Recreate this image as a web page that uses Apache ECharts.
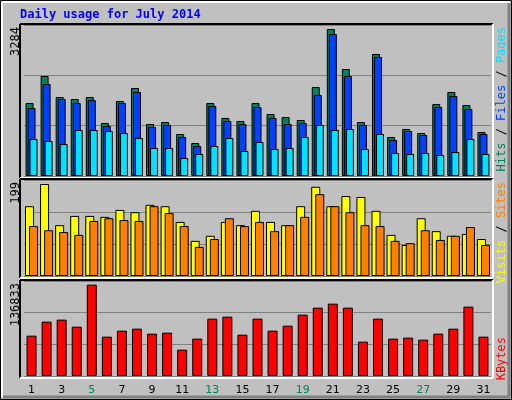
<!DOCTYPE html>
<html><head><meta charset="utf-8">
<script src="https://cdn.jsdelivr.net/npm/echarts@6/dist/echarts.min.js"></script>
<style>html,body{margin:0;padding:0;background:#c0c0c0}#c{width:512px;height:400px}</style>
</head><body><div id="c"></div>
<script>
const days = ['1','2','3','4','5','6','7','8','9','10','11','12','13','14','15','16','17','18','19','20','21','22','23','24','25','26','27','28','29','30','31'];
const weekend = ['5','6','12','13','19','20','26','27'];
const hits  = [1631,2234,1765,1720,1765,1184,1676,1966,1162,1206,938,737,1631,1296,1229,1631,1385,1318,1251,1988,3284,2390,1206,2726,871,1050,961,1609,1877,1586,983];
const files = [1519,2055,1720,1631,1698,1117,1631,1877,1095,1139,871,670,1564,1229,1162,1541,1296,1162,1184,1810,3172,2234,1139,2659,804,1005,916,1541,1787,1497,938];
const pages = [827,782,715,1028,1028,1005,961,849,626,626,402,492,670,849,559,760,603,626,871,1139,1028,1050,603,938,514,492,514,469,536,827,492];
const sites  = [151,199,110,130,130,128,143,138,154,151,117,76,87,117,110,141,117,110,151,193,151,173,171,141,89,67,125,97,87,91,80];
const visits = [108,99,95,89,119,125,121,119,151,136,108,63,80,125,108,117,97,110,128,177,151,138,110,108,76,71,99,78,87,106,67];
const kbytes = [60427,81402,84399,73911,136833,58929,67918,70915,63424,64922,39453,55933,85897,88893,61926,85897,67918,75409,91890,102377,108370,102377,51438,85897,55933,57431,54435,63424,70915,103875,58929];
const maxLabels = ['3284','199','136833'];

const chart = echarts.init(document.getElementById('c'), null, {renderer:'canvas'});
const L = 24, W = 467;
const grids = [{left:L,width:W,top:25,height:151},{left:L,width:W,top:180,height:96},{left:L,width:W,top:281,height:95}];
const maxes = [3373,207.7,142300];
const xAxes = grids.map((g,i)=>({type:'category',gridIndex:i,data:days,
  axisLine:{show:false},axisTick:{show:false},
  axisLabel:{show:i===2,margin:9,fontFamily:'DejaVu Sans',fontSize:11,
    color:(v)=>weekend.includes(v)?'#00805c':'#000'}}));
const yAxes = grids.map((g,i)=>({type:'value',gridIndex:i,min:0,max:maxes[i],interval:maxes[i]/3,
  axisLabel:{show:false},axisLine:{show:false},axisTick:{show:false},
  splitLine:{show:true,lineStyle:{color:'#808080',width:1}}}));
const bs = {borderColor:'#000',borderWidth:1};
const series = [
  {type:'bar',xAxisIndex:0,yAxisIndex:0,data:hits,barWidth:8,barGap:'-75%',itemStyle:{color:'#00805c',...bs}},
  {type:'bar',xAxisIndex:0,yAxisIndex:0,data:files,barWidth:8,barGap:'-75%',itemStyle:{color:'#0040ff',...bs}},
  {type:'bar',xAxisIndex:0,yAxisIndex:0,data:pages,barWidth:8,barGap:'-75%',itemStyle:{color:'#00e0ff',...bs}},
  {type:'bar',xAxisIndex:1,yAxisIndex:1,data:sites,barWidth:9,barGap:'-55%',itemStyle:{color:'#ffff00',...bs}},
  {type:'bar',xAxisIndex:1,yAxisIndex:1,data:visits,barWidth:9,barGap:'-55%',itemStyle:{color:'#ff8000',...bs}},
  {type:'bar',xAxisIndex:2,yAxisIndex:2,data:kbytes,barWidth:10,itemStyle:{color:'#ff0000',...bs}}
];
function frame(x1,y1,x2,y2){
  return [
    {type:'line',shape:{x1:x1,y1:y1,x2:x2,y2:y1},style:{stroke:'#000',lineWidth:2},z:10},
    {type:'line',shape:{x1:x1,y1:y1,x2:x1,y2:y2},style:{stroke:'#000',lineWidth:2},z:10},
    {type:'line',shape:{x1:x1,y1:y2,x2:x2,y2:y2},style:{stroke:'#fff',lineWidth:2},z:10},
    {type:'line',shape:{x1:x2,y1:y1,x2:x2,y2:y2},style:{stroke:'#fff',lineWidth:2},z:10}];
}
const mono = 'DejaVu Sans Mono';
const graphic = [
  {type:'rect',shape:{x:0.5,y:0.5,width:511,height:399},style:{fill:'none',stroke:'#000',lineWidth:1},z:20},
  {type:'line',shape:{x1:2,y1:2,x2:510,y2:2},style:{stroke:'#fff',lineWidth:2},z:20},
  {type:'line',shape:{x1:2,y1:2,x2:2,y2:397},style:{stroke:'#fff',lineWidth:2},z:20},
  {type:'line',shape:{x1:3,y1:397,x2:510,y2:397},style:{stroke:'#808080',lineWidth:3},z:20},
  {type:'line',shape:{x1:509,y1:3,x2:509,y2:397},style:{stroke:'#808080',lineWidth:3},z:20},
  ...frame(20,24,493,178),...frame(20,179,493,278),...frame(20,280,493,378),
  {type:'text',x:20,y:9,style:{text:'Daily usage for July 2014',fill:'#0000ff',font:'bold 12px '+mono},z:30},
  {type:'text',x:10,y:27,rotation:Math.PI/2,style:{text:maxLabels[0],fill:'#000',font:'12px '+mono,align:'right',verticalAlign:'top'},z:30},
  {type:'text',x:10,y:182,rotation:Math.PI/2,style:{text:maxLabels[1],fill:'#000',font:'12px '+mono,align:'right',verticalAlign:'top'},z:30},
  {type:'text',x:10,y:283,rotation:Math.PI/2,style:{text:maxLabels[2],fill:'#000',font:'12px '+mono,align:'right',verticalAlign:'top'},z:30},
  {type:'text',x:496,y:27,rotation:Math.PI/2,style:{text:'{h|Hits}{s| / }{f|Files}{s| / }{p|Pages}',align:'right',verticalAlign:'top',font:'12px '+mono,
    rich:{h:{fill:'#00805c',font:'12px '+mono},f:{fill:'#0040ff',font:'12px '+mono},p:{fill:'#00e0ff',font:'12px '+mono},s:{fill:'#000',font:'12px '+mono}}},z:30},
  {type:'text',x:496,y:182,rotation:Math.PI/2,style:{text:'{v|Visits}{s| / }{t|Sites}',align:'right',verticalAlign:'top',font:'12px '+mono,
    rich:{v:{fill:'#ffff00',font:'12px '+mono},t:{fill:'#ff8000',font:'12px '+mono},s:{fill:'#000',font:'12px '+mono}}},z:30},
  {type:'text',x:496,y:337,rotation:Math.PI/2,style:{text:'KBytes',fill:'#ff0000',font:'12px '+mono,align:'right',verticalAlign:'top'},z:30}
];
chart.setOption({animation:false,backgroundColor:'#c0c0c0',grid:grids,xAxis:xAxes,yAxis:yAxes,series,graphic});
</script></body></html>
